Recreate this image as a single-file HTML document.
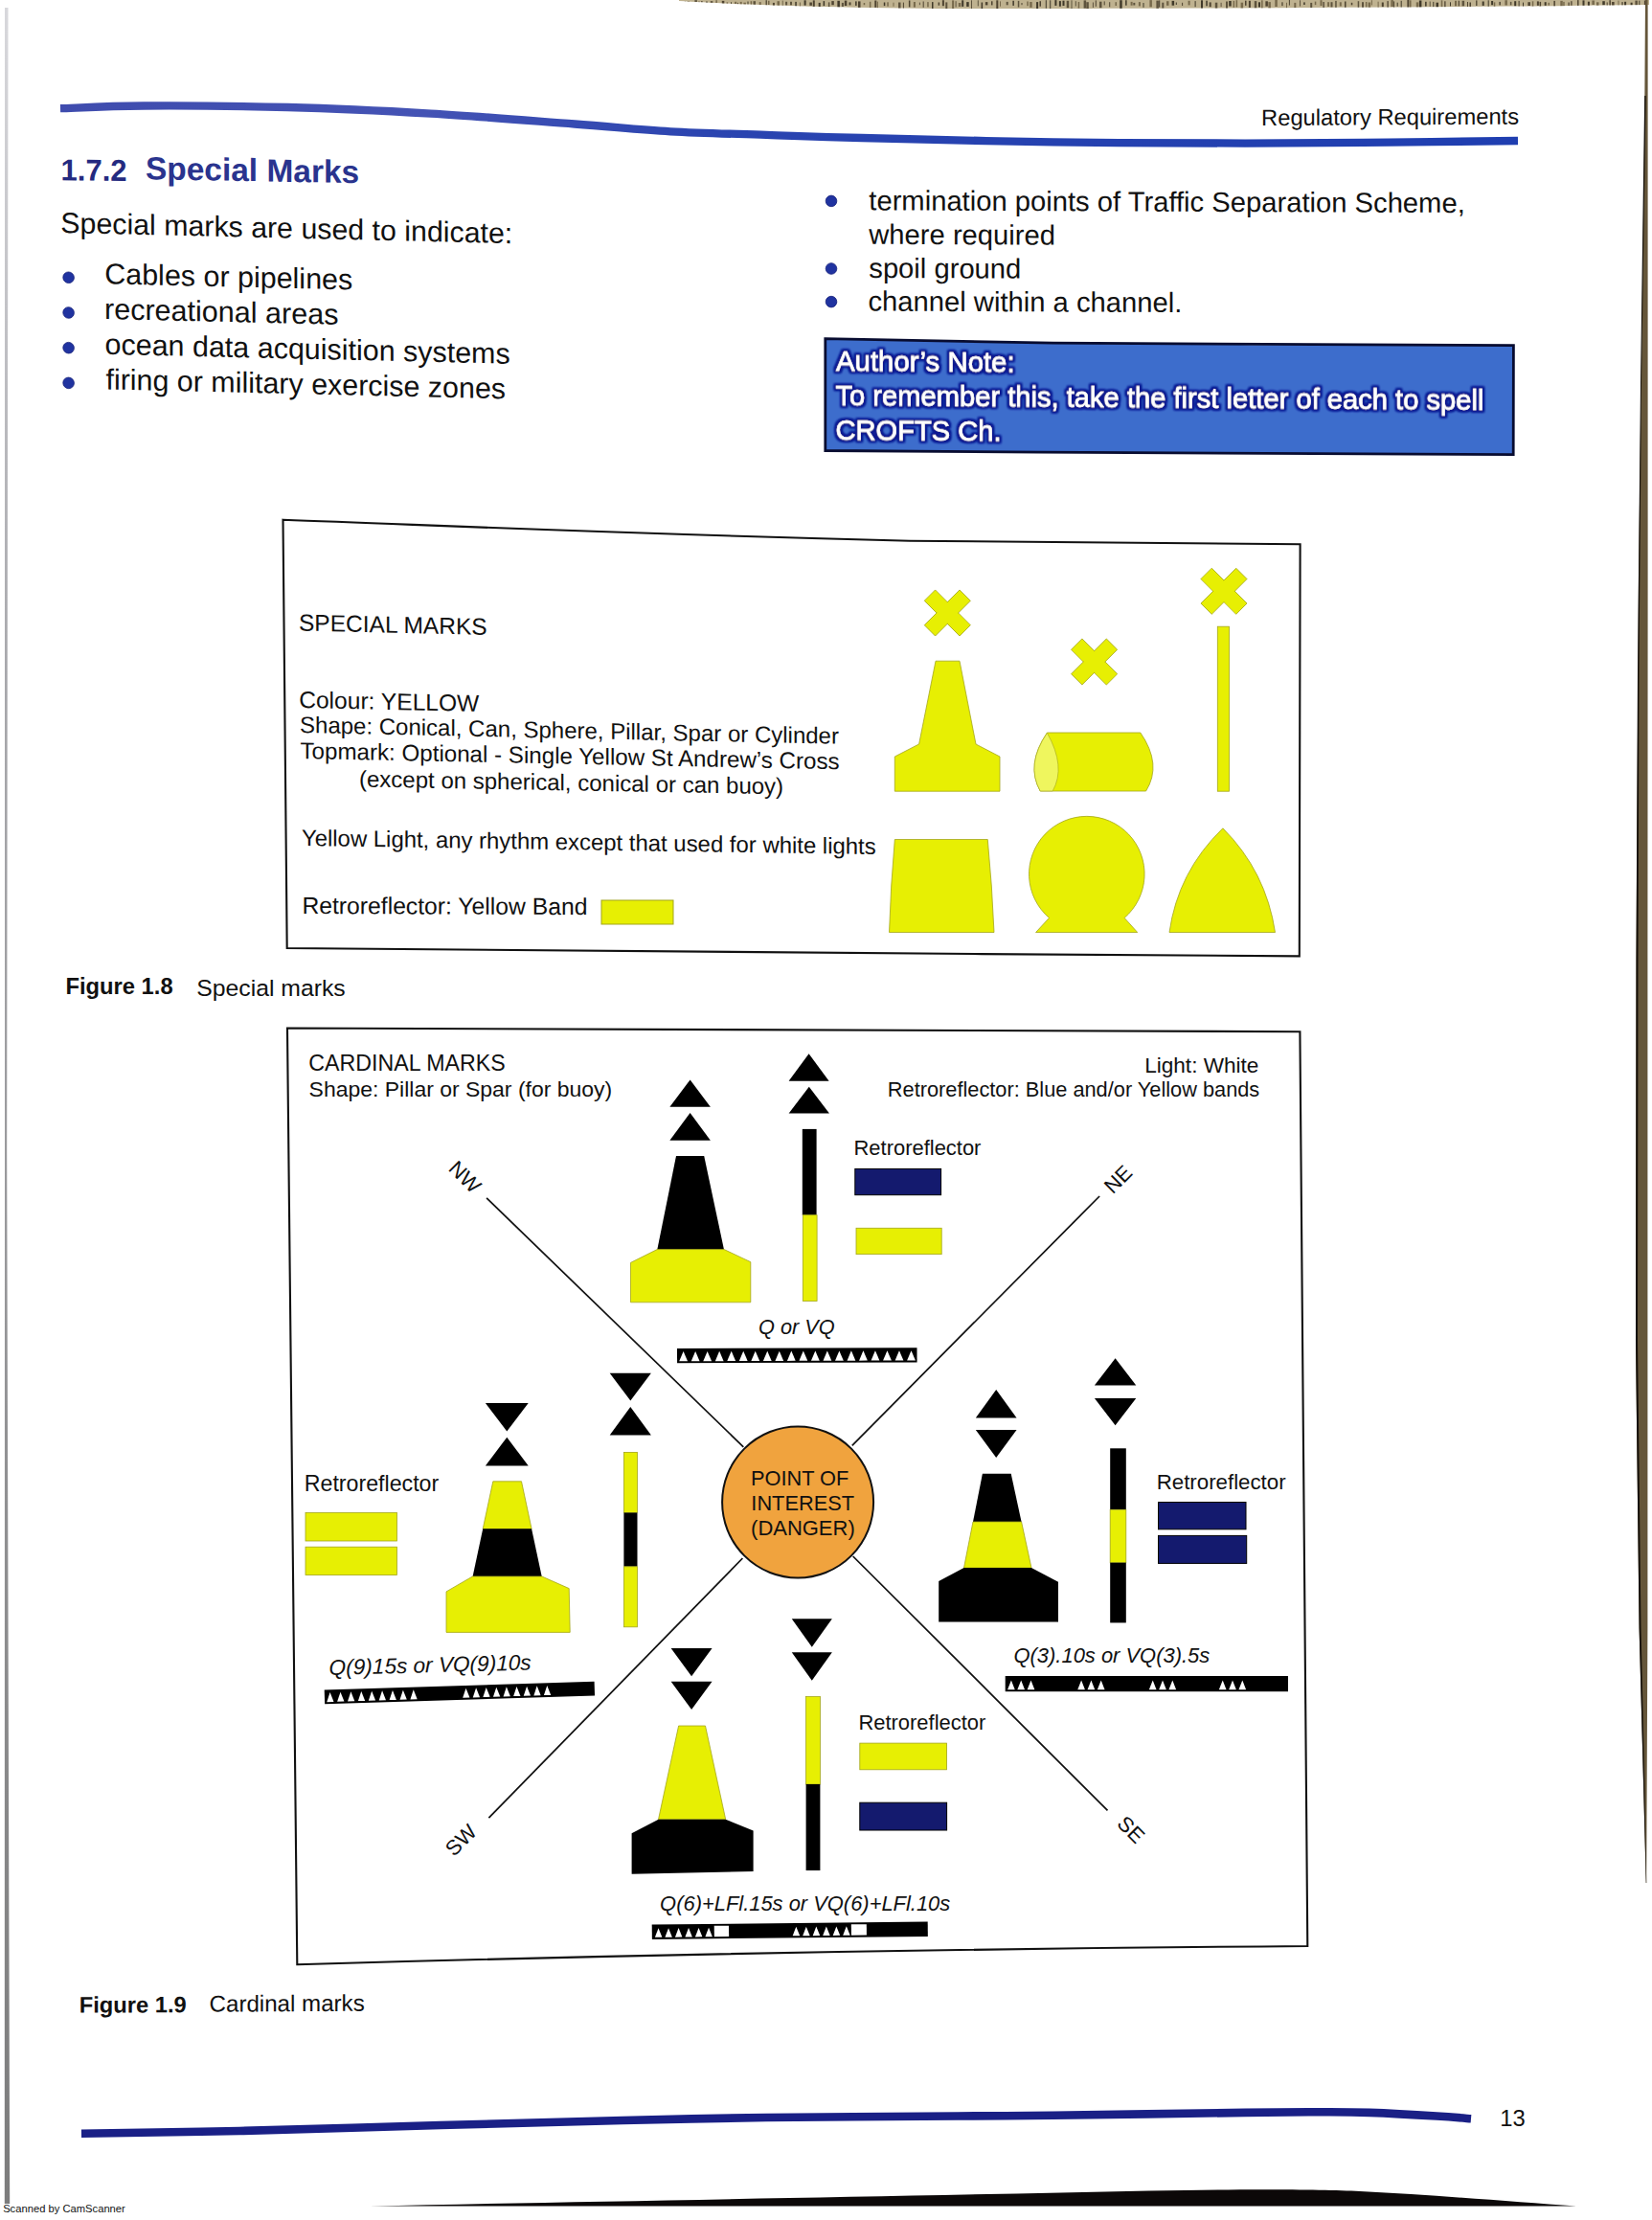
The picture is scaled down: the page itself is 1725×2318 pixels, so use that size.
<!DOCTYPE html>
<html><head><meta charset="utf-8"><title>Special Marks</title>
<style>
html,body{margin:0;padding:0;background:#fff;width:1725px;height:2318px;overflow:hidden;}
svg{display:block;}
svg text{font-family:"Liberation Sans",sans-serif;}
</style></head>
<body>
<svg width="1725" height="2318" viewBox="0 0 1725 2318">
<clipPath id="wc"><path d="M709,0 L1722,0 L1722,5 C1500,8 1200,9 1000,9 C850,8 760,4 709,1 Z"/></clipPath>
<path d="M709,0 L1722,0 L1722,5 C1500,8 1200,9 1000,9 C850,8 760,4 709,1 Z" fill="#bfb290"/>
<g clip-path="url(#wc)" opacity="0.85"><rect x="712.0" y="2.8" width="2" height="4.1" fill="#3a3020"/><rect x="714.8" y="1.1" width="1" height="4.2" fill="#4d4230"/><rect x="717.5" y="1.3" width="2.5" height="4.9" fill="#6a5c40"/><rect x="720.3" y="2.8" width="1" height="5.3" fill="#3a3020"/><rect x="725.4" y="0.1" width="2.5" height="6.0" fill="#4d4230"/><rect x="729.2" y="1.6" width="1.5" height="6.2" fill="#4d4230"/><rect x="732.1" y="1.1" width="1.5" height="6.6" fill="#3a3020"/><rect x="737.2" y="1.5" width="1.5" height="6.2" fill="#2a2418"/><rect x="741.8" y="1.1" width="2.5" height="5.2" fill="#4d4230"/><rect x="747.4" y="0.2" width="1.5" height="6.3" fill="#6a5c40"/><rect x="753.8" y="0.9" width="2.5" height="9.0" fill="#3a3020"/><rect x="758.6" y="2.3" width="1.5" height="3.5" fill="#6a5c40"/><rect x="763.0" y="2.3" width="1" height="5.6" fill="#2a2418"/><rect x="767.1" y="1.8" width="2" height="6.1" fill="#6a5c40"/><rect x="769.9" y="2.8" width="1" height="4.5" fill="#3a3020"/><rect x="772.7" y="1.9" width="2" height="8.0" fill="#6a5c40"/><rect x="776.4" y="2.7" width="2.5" height="4.1" fill="#6a5c40"/><rect x="780.5" y="1.5" width="1" height="4.6" fill="#2a2418"/><rect x="783.6" y="1.2" width="1.5" height="8.4" fill="#6a5c40"/><rect x="786.5" y="1.2" width="2.5" height="5.2" fill="#4d4230"/><rect x="792.7" y="2.1" width="2" height="7.8" fill="#6a5c40"/><rect x="799.5" y="0.2" width="1.5" height="5.5" fill="#4d4230"/><rect x="802.0" y="0.8" width="1.5" height="4.2" fill="#6a5c40"/><rect x="806.9" y="2.9" width="2" height="5.6" fill="#3a3020"/><rect x="811.5" y="1.2" width="2.5" height="5.8" fill="#6a5c40"/><rect x="816.8" y="0.6" width="1" height="9.4" fill="#6a5c40"/><rect x="820.1" y="1.8" width="2" height="3.7" fill="#4d4230"/><rect x="825.0" y="1.8" width="2" height="3.5" fill="#4d4230"/><rect x="830.3" y="1.9" width="1.5" height="7.9" fill="#2a2418"/><rect x="834.9" y="2.5" width="1" height="7.4" fill="#6a5c40"/><rect x="839.6" y="0.3" width="2" height="5.3" fill="#2a2418"/><rect x="845.4" y="2.5" width="2.5" height="3.3" fill="#3a3020"/><rect x="848.8" y="0.4" width="2" height="7.3" fill="#3a3020"/><rect x="854.7" y="2.9" width="2" height="6.4" fill="#2a2418"/><rect x="859.6" y="1.1" width="1.5" height="5.0" fill="#2a2418"/><rect x="864.9" y="2.4" width="1.5" height="6.7" fill="#4d4230"/><rect x="868.3" y="1.1" width="2.5" height="4.1" fill="#3a3020"/><rect x="874.4" y="0.8" width="2.5" height="7.7" fill="#2a2418"/><rect x="878.9" y="2.9" width="2" height="4.0" fill="#4d4230"/><rect x="881.8" y="0.6" width="2.5" height="5.4" fill="#3a3020"/><rect x="886.5" y="2.4" width="2" height="3.0" fill="#3a3020"/><rect x="893.1" y="1.4" width="1.5" height="4.5" fill="#2a2418"/><rect x="896.0" y="1.4" width="2.5" height="7.3" fill="#3a3020"/><rect x="901.7" y="3.0" width="1.5" height="2.2" fill="#6a5c40"/><rect x="907.9" y="1.8" width="1.5" height="6.1" fill="#6a5c40"/><rect x="913.3" y="0.5" width="2" height="7.3" fill="#3a3020"/><rect x="915.9" y="1.6" width="1" height="8.1" fill="#6a5c40"/><rect x="922.8" y="2.5" width="1.5" height="3.6" fill="#2a2418"/><rect x="926.3" y="2.3" width="1.5" height="4.3" fill="#6a5c40"/><rect x="932.5" y="2.7" width="1" height="4.0" fill="#6a5c40"/><rect x="938.0" y="2.5" width="2.5" height="6.9" fill="#4d4230"/><rect x="942.9" y="2.6" width="1" height="6.3" fill="#3a3020"/><rect x="948.9" y="0.5" width="1.5" height="6.9" fill="#3a3020"/><rect x="953.9" y="2.0" width="2" height="5.6" fill="#6a5c40"/><rect x="959.9" y="2.6" width="1" height="2.6" fill="#4d4230"/><rect x="963.7" y="1.5" width="1" height="6.3" fill="#3a3020"/><rect x="968.2" y="2.1" width="1.5" height="5.2" fill="#6a5c40"/><rect x="973.0" y="2.1" width="1.5" height="7.3" fill="#2a2418"/><rect x="979.6" y="2.5" width="1.5" height="3.2" fill="#3a3020"/><rect x="983.9" y="0.2" width="2" height="6.0" fill="#3a3020"/><rect x="987.3" y="2.4" width="2" height="7.1" fill="#4d4230"/><rect x="994.1" y="0.4" width="2" height="9.0" fill="#6a5c40"/><rect x="997.6" y="1.2" width="1" height="6.2" fill="#4d4230"/><rect x="1000.8" y="3.0" width="2.5" height="4.0" fill="#6a5c40"/><rect x="1004.2" y="0.3" width="2" height="6.6" fill="#2a2418"/><rect x="1009.2" y="2.1" width="2.5" height="4.8" fill="#2a2418"/><rect x="1014.0" y="0.3" width="1" height="9.3" fill="#4d4230"/><rect x="1020.8" y="0.3" width="1" height="6.1" fill="#4d4230"/><rect x="1024.6" y="2.5" width="1.5" height="6.8" fill="#2a2418"/><rect x="1028.9" y="2.1" width="2.5" height="3.3" fill="#3a3020"/><rect x="1035.0" y="1.3" width="1.5" height="4.1" fill="#3a3020"/><rect x="1040.3" y="0.3" width="2" height="9.0" fill="#3a3020"/><rect x="1044.0" y="1.4" width="1" height="5.3" fill="#6a5c40"/><rect x="1050.7" y="1.9" width="2" height="3.4" fill="#4d4230"/><rect x="1057.4" y="0.8" width="1.5" height="5.1" fill="#2a2418"/><rect x="1062.8" y="0.9" width="1.5" height="6.6" fill="#4d4230"/><rect x="1066.5" y="3.0" width="1" height="2.2" fill="#3a3020"/><rect x="1072.3" y="1.5" width="1.5" height="4.7" fill="#6a5c40"/><rect x="1075.2" y="2.0" width="2.5" height="5.8" fill="#6a5c40"/><rect x="1082.1" y="2.1" width="2" height="7.8" fill="#2a2418"/><rect x="1085.5" y="1.2" width="1.5" height="5.5" fill="#3a3020"/><rect x="1091.8" y="0.2" width="1" height="8.5" fill="#2a2418"/><rect x="1096.2" y="0.3" width="1" height="9.0" fill="#2a2418"/><rect x="1101.4" y="0.1" width="2" height="5.8" fill="#2a2418"/><rect x="1105.9" y="1.1" width="2" height="5.6" fill="#2a2418"/><rect x="1109.5" y="0.7" width="2" height="5.3" fill="#2a2418"/><rect x="1113.7" y="0.8" width="2.5" height="7.4" fill="#4d4230"/><rect x="1118.5" y="0.3" width="1" height="8.8" fill="#4d4230"/><rect x="1122.8" y="1.2" width="1" height="5.3" fill="#4d4230"/><rect x="1125.7" y="2.0" width="1.5" height="6.6" fill="#6a5c40"/><rect x="1131.6" y="0.4" width="2.5" height="8.2" fill="#4d4230"/><rect x="1134.3" y="2.2" width="2.5" height="6.9" fill="#4d4230"/><rect x="1140.9" y="2.5" width="1" height="5.4" fill="#4d4230"/><rect x="1143.8" y="0.4" width="1" height="6.4" fill="#3a3020"/><rect x="1148.0" y="1.7" width="2.5" height="6.5" fill="#4d4230"/><rect x="1152.7" y="1.4" width="1" height="4.0" fill="#3a3020"/><rect x="1158.2" y="2.2" width="1" height="5.1" fill="#3a3020"/><rect x="1164.5" y="2.2" width="1.5" height="3.8" fill="#6a5c40"/><rect x="1169.2" y="0.2" width="2.5" height="9.3" fill="#2a2418"/><rect x="1175.1" y="0.2" width="1.5" height="5.5" fill="#2a2418"/><rect x="1180.6" y="1.9" width="2" height="3.8" fill="#6a5c40"/><rect x="1183.3" y="2.9" width="2" height="2.6" fill="#4d4230"/><rect x="1188.9" y="2.1" width="2" height="4.3" fill="#6a5c40"/><rect x="1193.5" y="3.0" width="1" height="4.8" fill="#2a2418"/><rect x="1200.4" y="0.1" width="2.5" height="7.2" fill="#6a5c40"/><rect x="1207.4" y="0.6" width="2.5" height="9.1" fill="#4d4230"/><rect x="1210.2" y="0.4" width="1" height="7.2" fill="#2a2418"/><rect x="1213.3" y="2.7" width="2" height="5.9" fill="#4d4230"/><rect x="1218.0" y="1.2" width="2.5" height="4.6" fill="#6a5c40"/><rect x="1223.6" y="0.9" width="2.5" height="4.8" fill="#2a2418"/><rect x="1227.8" y="2.5" width="1" height="2.5" fill="#2a2418"/><rect x="1234.1" y="2.8" width="1" height="3.2" fill="#3a3020"/><rect x="1240.6" y="0.8" width="2" height="4.6" fill="#6a5c40"/><rect x="1247.6" y="1.1" width="1" height="6.1" fill="#2a2418"/><rect x="1254.0" y="0.3" width="2" height="8.9" fill="#2a2418"/><rect x="1259.3" y="0.7" width="1.5" height="5.6" fill="#2a2418"/><rect x="1262.7" y="2.4" width="2" height="4.8" fill="#3a3020"/><rect x="1268.8" y="2.7" width="2.5" height="7.0" fill="#4d4230"/><rect x="1274.6" y="2.8" width="1" height="4.3" fill="#4d4230"/><rect x="1280.0" y="1.5" width="2" height="8.1" fill="#4d4230"/><rect x="1283.2" y="1.0" width="2.5" height="5.5" fill="#2a2418"/><rect x="1287.6" y="0.9" width="1.5" height="6.9" fill="#6a5c40"/><rect x="1290.6" y="0.2" width="1.5" height="7.3" fill="#6a5c40"/><rect x="1295.6" y="2.7" width="2.5" height="7.3" fill="#6a5c40"/><rect x="1300.0" y="0.7" width="1.5" height="5.1" fill="#3a3020"/><rect x="1303.9" y="0.8" width="2" height="7.1" fill="#3a3020"/><rect x="1309.8" y="1.1" width="2.5" height="7.6" fill="#4d4230"/><rect x="1314.0" y="2.3" width="2" height="5.2" fill="#2a2418"/><rect x="1317.1" y="0.3" width="1.5" height="9.2" fill="#6a5c40"/><rect x="1321.4" y="1.3" width="2.5" height="5.3" fill="#3a3020"/><rect x="1324.4" y="2.1" width="2.5" height="7.3" fill="#6a5c40"/><rect x="1331.3" y="0.0" width="2.5" height="7.0" fill="#6a5c40"/><rect x="1338.2" y="2.3" width="1.5" height="3.8" fill="#4d4230"/><rect x="1343.0" y="2.8" width="1" height="5.8" fill="#6a5c40"/><rect x="1345.9" y="0.0" width="1" height="5.6" fill="#3a3020"/><rect x="1351.3" y="2.9" width="2" height="5.2" fill="#6a5c40"/><rect x="1357.0" y="0.3" width="1" height="6.2" fill="#4d4230"/><rect x="1361.2" y="2.4" width="1.5" height="2.6" fill="#2a2418"/><rect x="1368.2" y="2.9" width="2" height="5.3" fill="#4d4230"/><rect x="1372.8" y="1.6" width="1.5" height="3.5" fill="#6a5c40"/><rect x="1378.5" y="0.2" width="2" height="5.8" fill="#6a5c40"/><rect x="1381.4" y="2.0" width="1.5" height="7.6" fill="#4d4230"/><rect x="1386.1" y="2.2" width="2" height="4.7" fill="#6a5c40"/><rect x="1389.5" y="2.2" width="2" height="5.3" fill="#4d4230"/><rect x="1394.2" y="0.9" width="1.5" height="8.2" fill="#4d4230"/><rect x="1398.8" y="2.3" width="2" height="4.2" fill="#6a5c40"/><rect x="1404.0" y="1.5" width="1.5" height="8.1" fill="#3a3020"/><rect x="1410.8" y="2.8" width="1.5" height="2.5" fill="#3a3020"/><rect x="1417.7" y="1.2" width="1.5" height="7.3" fill="#4d4230"/><rect x="1422.0" y="2.2" width="2" height="7.8" fill="#4d4230"/><rect x="1425.9" y="2.0" width="1.5" height="5.7" fill="#6a5c40"/><rect x="1428.6" y="2.5" width="2.5" height="7.4" fill="#6a5c40"/><rect x="1431.9" y="0.2" width="1" height="5.2" fill="#6a5c40"/><rect x="1438.6" y="1.7" width="1" height="7.1" fill="#6a5c40"/><rect x="1442.8" y="2.5" width="2" height="4.7" fill="#3a3020"/><rect x="1448.4" y="1.1" width="1.5" height="8.5" fill="#4d4230"/><rect x="1452.4" y="0.1" width="2.5" height="7.0" fill="#6a5c40"/><rect x="1455.1" y="1.4" width="1" height="7.6" fill="#3a3020"/><rect x="1458.7" y="2.7" width="1" height="4.0" fill="#2a2418"/><rect x="1462.7" y="0.8" width="1" height="7.8" fill="#2a2418"/><rect x="1469.4" y="0.0" width="2" height="8.8" fill="#3a3020"/><rect x="1472.0" y="0.3" width="1.5" height="8.3" fill="#6a5c40"/><rect x="1478.8" y="2.4" width="2.5" height="7.2" fill="#6a5c40"/><rect x="1481.9" y="0.5" width="2.5" height="8.5" fill="#2a2418"/><rect x="1488.1" y="1.8" width="1.5" height="4.8" fill="#2a2418"/><rect x="1492.7" y="1.5" width="1" height="5.4" fill="#4d4230"/><rect x="1496.3" y="1.9" width="1" height="5.5" fill="#2a2418"/><rect x="1499.5" y="2.7" width="2.5" height="7.3" fill="#2a2418"/><rect x="1504.8" y="0.3" width="1.5" height="7.2" fill="#6a5c40"/><rect x="1508.1" y="1.3" width="1.5" height="6.9" fill="#4d4230"/><rect x="1514.0" y="2.3" width="1" height="4.1" fill="#2a2418"/><rect x="1519.0" y="0.8" width="2" height="5.5" fill="#6a5c40"/><rect x="1522.6" y="0.7" width="1.5" height="5.7" fill="#4d4230"/><rect x="1526.6" y="0.8" width="2.5" height="5.5" fill="#4d4230"/><rect x="1532.0" y="2.0" width="1" height="8.0" fill="#3a3020"/><rect x="1534.5" y="2.5" width="1.5" height="7.1" fill="#3a3020"/><rect x="1541.0" y="0.4" width="1.5" height="5.6" fill="#4d4230"/><rect x="1547.7" y="1.5" width="2" height="4.4" fill="#2a2418"/><rect x="1553.7" y="0.3" width="1" height="7.7" fill="#2a2418"/><rect x="1557.1" y="1.0" width="2" height="4.2" fill="#2a2418"/><rect x="1559.8" y="2.4" width="1.5" height="6.6" fill="#6a5c40"/><rect x="1565.4" y="1.9" width="1.5" height="3.5" fill="#3a3020"/><rect x="1571.4" y="0.2" width="2.5" height="5.3" fill="#6a5c40"/><rect x="1576.9" y="1.9" width="1.5" height="3.5" fill="#4d4230"/><rect x="1581.2" y="1.2" width="2" height="5.2" fill="#2a2418"/><rect x="1585.6" y="0.9" width="1" height="6.9" fill="#2a2418"/><rect x="1590.0" y="2.6" width="1" height="7.4" fill="#2a2418"/><rect x="1595.4" y="2.2" width="2.5" height="3.8" fill="#3a3020"/><rect x="1599.8" y="1.3" width="1.5" height="7.8" fill="#6a5c40"/><rect x="1604.9" y="1.4" width="2" height="4.4" fill="#3a3020"/><rect x="1607.6" y="1.9" width="1.5" height="7.6" fill="#3a3020"/><rect x="1612.7" y="2.2" width="2" height="3.6" fill="#2a2418"/><rect x="1616.5" y="2.8" width="1.5" height="2.8" fill="#6a5c40"/><rect x="1622.4" y="0.9" width="1.5" height="8.3" fill="#3a3020"/><rect x="1629.3" y="0.9" width="2.5" height="7.1" fill="#6a5c40"/><rect x="1632.2" y="1.9" width="1.5" height="7.4" fill="#6a5c40"/><rect x="1637.4" y="2.5" width="1.5" height="3.4" fill="#4d4230"/><rect x="1640.1" y="1.2" width="1.5" height="4.5" fill="#4d4230"/><rect x="1647.0" y="0.1" width="1.5" height="7.7" fill="#3a3020"/><rect x="1652.5" y="0.4" width="2" height="7.6" fill="#2a2418"/><rect x="1657.9" y="1.7" width="2" height="5.4" fill="#2a2418"/><rect x="1662.4" y="0.5" width="2.5" height="4.5" fill="#6a5c40"/><rect x="1667.0" y="2.3" width="2.5" height="6.6" fill="#6a5c40"/><rect x="1673.3" y="1.2" width="2.5" height="4.1" fill="#2a2418"/><rect x="1677.7" y="2.4" width="1" height="5.1" fill="#3a3020"/><rect x="1680.4" y="0.2" width="1.5" height="8.4" fill="#3a3020"/><rect x="1683.1" y="2.0" width="2.5" height="7.0" fill="#3a3020"/><rect x="1689.5" y="0.6" width="1" height="9.3" fill="#6a5c40"/><rect x="1693.3" y="2.1" width="1.5" height="6.5" fill="#4d4230"/><rect x="1696.1" y="1.8" width="2" height="4.4" fill="#2a2418"/><rect x="1702.6" y="2.7" width="2" height="4.6" fill="#2a2418"/><rect x="1707.4" y="0.6" width="2.5" height="5.7" fill="#4d4230"/><rect x="1711.3" y="0.6" width="1" height="6.4" fill="#2a2418"/><rect x="1716.9" y="0.5" width="2.5" height="8.4" fill="#3a3020"/></g>
<path d="M1718,0 L1720.6,0 L1720.6,600 L1720.4,1000 L1720.4,1700 L1719.7,1850 L1719.2,1966 L1718.8,1966 L1715.7,1850 L1711.6,1700 L1708,1400 L1708.5,1000 L1711,600 L1715,300 L1717,150 Z" fill="#65563a"/>
<path d="M1717.2,100 L1718.6,100 L1714,400 L1711.5,700 L1710.5,1000 L1710,1400 L1713.5,1700 L1717,1850 L1719.2,1966 L1718.8,1966 L1715.7,1850 L1711.6,1700 L1708,1400 L1708.5,1000 L1710,700 L1713,400 Z" fill="#15100a"/>
<defs><linearGradient id="lg" x1="0" y1="0" x2="0" y2="1"><stop offset="0" stop-color="#d8d8dc"/><stop offset="0.3" stop-color="#a8a8ac"/><stop offset="1" stop-color="#7c7c7c"/></linearGradient></defs>
<path d="M5,8 L8.5,8 L7.2,1200 L10.2,2301 L4.8,2301 L5,1200 Z" fill="url(#lg)"/>
<path d="M386,2303.5 C600,2299 900,2294 1200,2287.5 C1300,2285.5 1380,2286 1420,2288 C1500,2292 1580,2299 1646,2303.5 Z" fill="#0c0808"/>
<defs><linearGradient id="hl" x1="0" y1="0" x2="1" y2="0"><stop offset="0" stop-color="#3f4cae"/><stop offset="0.25" stop-color="#4453b4"/><stop offset="0.45" stop-color="#2a44b0"/><stop offset="1" stop-color="#1f3eb0"/></linearGradient></defs>
<path d="M63,113.2 C77.5,112.8 110.5,110.7 150,110.5 C189.5,110.3 250.0,110.7 300,112 C350.0,113.3 400.0,115.7 450,118.6 C500.0,121.5 558.3,126.4 600,129.5 C641.7,132.6 666.7,135.4 700,137.3 C733.3,139.2 766.7,139.7 800,140.8 C833.3,141.9 850.0,142.8 900,144 C950.0,145.2 1033.3,147.4 1100,148.3 C1166.7,149.2 1241.7,149.6 1300,149.6 C1358.3,149.6 1402.5,149.0 1450,148.6 C1497.5,148.2 1562.5,147.3 1585,147" fill="none" stroke="url(#hl)" stroke-width="8.3"/>
<path d="M85,2227.7 C112.5,2227.2 187.5,2226.4 250,2225 C312.5,2223.6 393.3,2220.8 460,2219 C526.7,2217.2 593.3,2215.3 650,2214 C706.7,2212.7 741.7,2211.8 800,2211 C858.3,2210.2 950.0,2209.9 1000,2209.5 C1050.0,2209.1 1050.0,2209.3 1100,2208.7 C1150.0,2208.1 1253.3,2206.5 1300,2205.9 C1346.7,2205.3 1358.3,2205.3 1380,2205.3 C1401.7,2205.3 1410.0,2205.2 1430,2205.9 C1450.0,2206.6 1482.3,2208.4 1500,2209.5 C1517.7,2210.6 1530.0,2211.8 1536,2212.3" fill="none" stroke="#1a2086" stroke-width="8.6"/>
<text x="1317.1" y="131" font-size="23.72" fill="#111" transform="translate(1317.1 131) skewY(-0.3) translate(-1317.1 -131)">Regulatory Requirements</text>
<text x="63.57" y="188.3" font-size="31.5" font-weight="700" fill="#242a80" transform="translate(63.57 188.3) skewY(0.5) translate(-63.57 -188.3)" textLength="69" lengthAdjust="spacingAndGlyphs">1.7.2</text>
<text x="151.93" y="187.2" font-size="33.47" font-weight="700" fill="#2a348e" transform="translate(151.93 187.2) skewY(1.0) translate(-151.93 -187.2)">Special Marks</text>
<g transform="translate(64 243) skewY(1.35) translate(-64 -243)">
<text x="63.29" y="243" font-size="30.33" fill="#111">Special marks are used to indicate:</text>
<circle cx="71.6" cy="289.6" r="5.8" fill="#2033a0" stroke="#16207a" stroke-width="0.8"/>
<text x="109.28" y="295.3" font-size="30.46" fill="#111">Cables or pipelines</text>
<circle cx="71.6" cy="326.3" r="5.8" fill="#2033a0" stroke="#16207a" stroke-width="0.8"/>
<text x="108.97" y="332.0" font-size="30.55" fill="#111">recreational areas</text>
<circle cx="71.6" cy="363.00000000000006" r="5.8" fill="#2033a0" stroke="#16207a" stroke-width="0.8"/>
<text x="109.58" y="368.70000000000005" font-size="30.46" fill="#111">ocean data acquisition systems</text>
<circle cx="71.6" cy="399.70000000000005" r="5.8" fill="#2033a0" stroke="#16207a" stroke-width="0.8"/>
<text x="110.5" y="405.40000000000003" font-size="30.43" fill="#111">firing or military exercise zones</text>
</g>
<g transform="translate(868 220) skewY(0.25) translate(-868 -220)">
<circle cx="868" cy="209.89999999999998" r="5.8" fill="#2033a0" stroke="#16207a" stroke-width="0.8"/>
<text x="907.3" y="219.2" font-size="29.2" fill="#111">termination points of Traffic Separation Scheme,</text>
<text x="907.3" y="254.6" font-size="29.2" fill="#111">where required</text>
<circle cx="868" cy="280.5" r="5.8" fill="#2033a0" stroke="#16207a" stroke-width="0.8"/>
<text x="907.3" y="289.8" font-size="29.2" fill="#111">spoil ground</text>
<circle cx="868" cy="315.09999999999997" r="5.8" fill="#2033a0" stroke="#16207a" stroke-width="0.8"/>
<text x="906.5" y="324.4" font-size="29.2" fill="#111">channel within a channel.</text>
</g>
<path d="M861.8,353.6 C960,355.5 1040,357 1100,358.2 C1200,360 1300,360.6 1580.4,360.6 L1580.2,474.6 C1300,473.5 1100,472.5 861.8,470.5 Z" fill="#3d6dcc" stroke="#080c30" stroke-width="2.8"/>
<g transform="translate(861 353) skewY(0.42) translate(-861 -353)">
<defs><filter id="glow" x="-5%" y="-40%" width="110%" height="180%"><feMorphology in="SourceAlpha" operator="dilate" radius="1.5" result="d"/><feGaussianBlur in="d" stdDeviation="1.1" result="b"/><feFlood flood-color="#0a1a90" flood-opacity="1"/><feComposite in2="b" operator="in" result="s"/><feMerge><feMergeNode in="s"/><feMergeNode in="s"/><feMergeNode in="SourceGraphic"/></feMerge></filter></defs>
<text x="873.0" y="387.3" font-size="29.36" fill="#fff" filter="url(#glow)" stroke="#fff" stroke-width="0.5">Author’s Note:</text>
<text x="872.42" y="423.2" font-size="29.15" fill="#fff" filter="url(#glow)" stroke="#fff" stroke-width="0.5">To remember this, take the first letter of each to spell</text>
<text x="872.42" y="459.3" font-size="29.15" fill="#fff" filter="url(#glow)" stroke="#fff" stroke-width="0.5">CROFTS Ch.</text>
</g>
<path d="M295.5,542.7 C450,548 600,556 950,564.7 C1150,567 1300,568 1357.6,568.2 L1356.8,998.4 C1000,996 600,993 299.7,990 Z" fill="none" stroke="#111" stroke-width="2.1"/>
<text x="312.02" y="658.5" font-size="24.53" fill="#111" transform="translate(312.02 658.5) skewY(1.3) translate(-312.02 -658.5)">SPECIAL MARKS</text>
<text x="312.17" y="739" font-size="24.6" fill="#111" transform="translate(312.17 739) skewY(1.2) translate(-312.17 -739)">Colour: YELLOW</text>
<text x="313.04" y="765" font-size="24.01" fill="#111" transform="translate(313.04 765) skewY(1.2) translate(-313.04 -765)">Shape: Conical, Can, Sphere, Pillar, Spar or Cylinder</text>
<text x="313.52" y="792" font-size="24.15" fill="#111" transform="translate(313.52 792) skewY(1.15) translate(-313.52 -792)">Topmark: Optional - Single Yellow St Andrew’s Cross</text>
<text x="374.96" y="821.5" font-size="24.02" fill="#111" transform="translate(374.96 821.5) skewY(1.0) translate(-374.96 -821.5)">(except on spherical, conical or can buoy)</text>
<text x="314.92" y="883" font-size="23.92" fill="#111" transform="translate(314.92 883) skewY(0.86) translate(-314.92 -883)">Yellow Light, any rhythm except that used for white lights</text>
<text x="315.42" y="954" font-size="24.71" fill="#111" transform="translate(315.42 954) skewY(0.2) translate(-315.42 -954)">Retroreflector: Yellow Band</text>
<rect x="628" y="940" width="75" height="25" fill="#e7ef03" stroke="#a3a61c" stroke-width="1"/>
<g transform="translate(989.3 640) rotate(45)"><rect x="-26.0" y="-8.0" width="52" height="16" fill="#e7ef03" stroke="#a3a61c" stroke-width="0.8"/><rect x="-8.0" y="-26.0" width="16" height="52" fill="#e7ef03" stroke="#a3a61c" stroke-width="0.8"/></g>
<g transform="translate(989.3 640) rotate(45)"><rect x="-25.5" y="-7.5" width="51" height="15" fill="#e7ef03"/></g>
<g transform="translate(1142.6 691) rotate(45)"><rect x="-26.0" y="-8.0" width="52" height="16" fill="#e7ef03" stroke="#a3a61c" stroke-width="0.8"/><rect x="-8.0" y="-26.0" width="16" height="52" fill="#e7ef03" stroke="#a3a61c" stroke-width="0.8"/></g>
<g transform="translate(1142.6 691) rotate(45)"><rect x="-25.5" y="-7.5" width="51" height="15" fill="#e7ef03"/></g>
<g transform="translate(1278 617.3) rotate(45)"><rect x="-26.0" y="-8.0" width="52" height="16" fill="#e7ef03" stroke="#a3a61c" stroke-width="0.8"/><rect x="-8.0" y="-26.0" width="16" height="52" fill="#e7ef03" stroke="#a3a61c" stroke-width="0.8"/></g>
<g transform="translate(1278 617.3) rotate(45)"><rect x="-25.5" y="-7.5" width="51" height="15" fill="#e7ef03"/></g>
<polygon points="977,690.2 1002,690.2 1019,777 1044,790 1044,826.2 934.3,826.2 934.3,790 959.6,777" fill="#e7ef03" stroke="#a3a61c" stroke-width="0.8"/>
<path d="M1093.4,765 L1190.8,765 Q1213.9,798.3 1196.6,826 L1086.2,826 Q1070.8,798.3 1093.4,765 Z" fill="#e7ef03" stroke="#a3a61c" stroke-width="0.8"/>
<path d="M1093.4,765.3 Q1113.4,800.6 1099.2,826 L1086.2,826 Q1070.8,798.3 1093.4,765.3 Z" fill="#eff65e" stroke="#a3a61c" stroke-width="0.6"/>
<rect x="1271.3" y="654.2" width="12.2" height="172" fill="#e7ef03" stroke="#a3a61c" stroke-width="0.8"/>
<path d="M934.3,876.5 L1031.3,876.5 Q1036,925 1038,973.5 L928.5,973.5 Q930,925 934.3,876.5 Z" fill="#e7ef03" stroke="#a3a61c" stroke-width="0.8"/>
<path d="M1095.5,958.4 A60.3,60.3 0 1 1 1174.1,958.4 L1187.7,973.5 L1081.6,973.5 Z" fill="#e7ef03" stroke="#a3a61c" stroke-width="0.8"/>
<path d="M1276.9,864.8 Q1230,910 1221,973.5 L1331.5,973.5 Q1322,910 1276.9,864.8 Z" fill="#e7ef03" stroke="#a3a61c" stroke-width="0.8"/>
<text x="68.48" y="1038.4" font-size="23.74" font-weight="700" fill="#111">Figure 1.8</text>
<text x="205.21" y="1039.6" font-size="24.77" fill="#111">Special marks</text>
<path d="M300,1073.5 L1357.4,1077.2 L1365.3,2032 Q830,2036 310.3,2051.2 Z" fill="none" stroke="#111" stroke-width="2.1"/>
<text x="322.34" y="1118" font-size="23.19" fill="#111">CARDINAL MARKS</text>
<text x="322.58" y="1145" font-size="22.97" fill="#111">Shape: Pillar or Spar (for buoy)</text>
<text x="1195.19" y="1119.5" font-size="22.58" fill="#111">Light: White</text>
<text x="926.86" y="1145" font-size="21.78" fill="#111">Retroreflector: Blue and/or Yellow bands</text>
<line x1="508.1" y1="1250.9" x2="776.3" y2="1510.8" stroke="#111" stroke-width="1.75"/>
<line x1="1148.1" y1="1249" x2="889.8" y2="1509.3" stroke="#111" stroke-width="1.75"/>
<line x1="510.4" y1="1898.1" x2="775.4" y2="1627" stroke="#111" stroke-width="1.75"/>
<line x1="1156.5" y1="1890.4" x2="890.7" y2="1625" stroke="#111" stroke-width="1.75"/>
<text x="485.5" y="1229" font-size="22" fill="#111" text-anchor="middle" dominant-baseline="central" transform="rotate(45 485.5 1229)">NW</text>
<text x="1167.5" y="1231.5" font-size="22" fill="#111" text-anchor="middle" dominant-baseline="central" transform="rotate(-45 1167.5 1231.5)">NE</text>
<text x="481.3" y="1921.3" font-size="22" fill="#111" text-anchor="middle" dominant-baseline="central" transform="rotate(-45 481.3 1921.3)">SW</text>
<text x="1181" y="1910.4" font-size="22" fill="#111" text-anchor="middle" dominant-baseline="central" transform="rotate(45 1181 1910.4)">SE</text>
<circle cx="833.1" cy="1568.5" r="79" fill="#f0a33e" stroke="#111" stroke-width="2"/>
<text x="783.96" y="1550.7" font-size="21.77" fill="#111">POINT OF</text>
<text x="784.34" y="1577" font-size="21.78" fill="#111">INTEREST</text>
<text x="784.08" y="1603" font-size="21.98" fill="#111">(DANGER)</text>
<polygon points="720.6,1127.5 741.85,1155.8 699.35,1155.8" fill="#000"/>
<polygon points="720.6,1161.9 741.85,1190.7 699.35,1190.7" fill="#000"/>
<polygon points="706,1207 735.2,1207 756.1,1305.3 686.2,1305.3" fill="#000"/>
<polygon points="686.2,1304.6 756.1,1304.6 783.8,1317.7 783.8,1359.8 658.5,1359.8 658.5,1318.4" fill="#e7ef03" stroke="#a3a61c" stroke-width="0.8"/>
<polygon points="844.6,1100.2 865.6,1128.8 823.6,1128.8" fill="#000"/>
<polygon points="844.8,1134.7 865.9499999999999,1162.6 823.65,1162.6" fill="#000"/>
<rect x="837.8" y="1178.9" width="14.8" height="90" fill="#000"/>
<rect x="838.3" y="1268.7" width="14.8" height="89.8" fill="#e7ef03" stroke="#a3a61c" stroke-width="0.8"/>
<text x="891.54" y="1206.3" font-size="21.95" fill="#111">Retroreflector</text>
<rect x="892.8" y="1220.4" width="89.8" height="27.3" fill="#141a6e" stroke="#000" stroke-width="1"/>
<rect x="894" y="1282.3" width="89.2" height="27.3" fill="#e7ef03" stroke="#a3a61c" stroke-width="0.8"/>
<text x="792.03" y="1393" font-size="21.72" font-style="italic" fill="#111">Q or VQ</text>
<g transform="rotate(-0.2 707 1408)">
<rect x="707" y="1408" width="250.5" height="15.3" fill="#000"/>
<polygon points="713.6,1411.0 718.0,1421.3 709.2,1421.3" fill="#fff"/>
<polygon points="726.12,1411.0 730.52,1421.3 721.72,1421.3" fill="#fff"/>
<polygon points="738.64,1411.0 743.04,1421.3 734.24,1421.3" fill="#fff"/>
<polygon points="751.1600000000001,1411.0 755.5600000000001,1421.3 746.7600000000001,1421.3" fill="#fff"/>
<polygon points="763.6800000000001,1411.0 768.08,1421.3 759.2800000000001,1421.3" fill="#fff"/>
<polygon points="776.2,1411.0 780.6,1421.3 771.8000000000001,1421.3" fill="#fff"/>
<polygon points="788.72,1411.0 793.12,1421.3 784.32,1421.3" fill="#fff"/>
<polygon points="801.24,1411.0 805.64,1421.3 796.84,1421.3" fill="#fff"/>
<polygon points="813.76,1411.0 818.16,1421.3 809.36,1421.3" fill="#fff"/>
<polygon points="826.28,1411.0 830.68,1421.3 821.88,1421.3" fill="#fff"/>
<polygon points="838.8,1411.0 843.1999999999999,1421.3 834.4,1421.3" fill="#fff"/>
<polygon points="851.32,1411.0 855.72,1421.3 846.9200000000001,1421.3" fill="#fff"/>
<polygon points="863.84,1411.0 868.24,1421.3 859.44,1421.3" fill="#fff"/>
<polygon points="876.36,1411.0 880.76,1421.3 871.96,1421.3" fill="#fff"/>
<polygon points="888.88,1411.0 893.28,1421.3 884.48,1421.3" fill="#fff"/>
<polygon points="901.4,1411.0 905.8,1421.3 897.0,1421.3" fill="#fff"/>
<polygon points="913.9200000000001,1411.0 918.32,1421.3 909.5200000000001,1421.3" fill="#fff"/>
<polygon points="926.44,1411.0 930.84,1421.3 922.0400000000001,1421.3" fill="#fff"/>
<polygon points="938.96,1411.0 943.36,1421.3 934.5600000000001,1421.3" fill="#fff"/>
<polygon points="951.48,1411.0 955.88,1421.3 947.08,1421.3" fill="#fff"/>
</g>
<text x="317.75" y="1557.3" font-size="23.19" fill="#111">Retroreflector</text>
<rect x="319" y="1579.5" width="95.4" height="29.5" fill="#e7ef03" stroke="#a3a61c" stroke-width="0.8"/>
<rect x="319" y="1615.2" width="95.4" height="29.4" fill="#e7ef03" stroke="#a3a61c" stroke-width="0.8"/>
<polygon points="506.9,1465.1 551.6999999999999,1465.1 529.3,1494.5" fill="#000"/>
<polygon points="529.3,1500.7 551.6999999999999,1530.5 506.9,1530.5" fill="#000"/>
<polygon points="514.8,1546.8 544.5,1546.8 555.12,1596.5 504.18,1596.5" fill="#e7ef03" stroke="#a3a61c" stroke-width="0.8"/>
<polygon points="504.22,1596.3 555.08,1596.3 565.8,1646.5 493.5,1646.5" fill="#000"/>
<polygon points="493.5,1646 565.8,1646 594.2,1658.6 595.2,1704.4 466,1704.4 466,1661.9" fill="#e7ef03" stroke="#a3a61c" stroke-width="0.8"/>
<polygon points="636.6999999999999,1433.7 679.9,1433.7 658.3,1462.5" fill="#000"/>
<polygon points="658.3,1469 679.9,1498.5 636.6999999999999,1498.5" fill="#000"/>
<rect x="651.4" y="1516.4" width="14.1" height="63.1" fill="#e7ef03" stroke="#a3a61c" stroke-width="0.8"/>
<rect x="651.4" y="1579.5" width="14.1" height="56.3" fill="#000"/>
<rect x="651.4" y="1635.8" width="14.1" height="63" fill="#e7ef03" stroke="#a3a61c" stroke-width="0.8"/>
<text x="343.6" y="1749" font-size="22.62" font-style="italic" fill="#111" transform="translate(343.6 1749) skewY(-1.5) translate(-343.6 -1749)">Q(9)15s or VQ(9)10s</text>
<g transform="rotate(-1.77 338.7 1764.5)">
<rect x="338.7" y="1764.5" width="282" height="14.7" fill="#000"/>
<polygon points="344.5,1767.2 348.15,1777.2 340.85,1777.2" fill="#fff"/>
<polygon points="355.4,1767.2 359.04999999999995,1777.2 351.75,1777.2" fill="#fff"/>
<polygon points="366.3,1767.2 369.95,1777.2 362.65000000000003,1777.2" fill="#fff"/>
<polygon points="377.2,1767.2 380.84999999999997,1777.2 373.55,1777.2" fill="#fff"/>
<polygon points="388.1,1767.2 391.75,1777.2 384.45000000000005,1777.2" fill="#fff"/>
<polygon points="399.0,1767.2 402.65,1777.2 395.35,1777.2" fill="#fff"/>
<polygon points="409.9,1767.2 413.54999999999995,1777.2 406.25,1777.2" fill="#fff"/>
<polygon points="420.8,1767.2 424.45,1777.2 417.15000000000003,1777.2" fill="#fff"/>
<polygon points="431.7,1767.2 435.34999999999997,1777.2 428.05,1777.2" fill="#fff"/>
<polygon points="486.5,1767.2 490.15,1777.2 482.85,1777.2" fill="#fff"/>
<polygon points="497.1,1767.2 500.75,1777.2 493.45000000000005,1777.2" fill="#fff"/>
<polygon points="507.7,1767.2 511.34999999999997,1777.2 504.05,1777.2" fill="#fff"/>
<polygon points="518.3,1767.2 521.9499999999999,1777.2 514.65,1777.2" fill="#fff"/>
<polygon points="528.9,1767.2 532.55,1777.2 525.25,1777.2" fill="#fff"/>
<polygon points="539.5,1767.2 543.15,1777.2 535.85,1777.2" fill="#fff"/>
<polygon points="550.1,1767.2 553.75,1777.2 546.45,1777.2" fill="#fff"/>
<polygon points="560.7,1767.2 564.35,1777.2 557.0500000000001,1777.2" fill="#fff"/>
<polygon points="571.3,1767.2 574.9499999999999,1777.2 567.65,1777.2" fill="#fff"/>
</g>
<polygon points="1040.2,1451.1 1061.55,1480.6 1018.85,1480.6" fill="#000"/>
<polygon points="1018.85,1493 1061.55,1493 1040.2,1522" fill="#000"/>
<polygon points="1025.9,1538.7 1055.7,1538.7 1066.63,1589.2 1015.94,1589.2" fill="#000"/>
<polygon points="1015.98,1589 1066.59,1589 1077.0,1637.1 1006.5,1637.1" fill="#e7ef03" stroke="#a3a61c" stroke-width="0.8"/>
<polygon points="1006.5,1637 1077,1637 1105,1651.8 1105,1693.6 980.2,1693.6 980.2,1651" fill="#000"/>
<polygon points="1164.6,1418.2 1186.3,1446.5 1142.8999999999999,1446.5" fill="#000"/>
<polygon points="1142.8999999999999,1460 1186.3,1460 1164.6,1488.3" fill="#000"/>
<rect x="1159.2" y="1512.3" width="16.6" height="64" fill="#000"/>
<rect x="1159.2" y="1576.3" width="16.6" height="55.4" fill="#e7ef03" stroke="#a3a61c" stroke-width="0.8"/>
<rect x="1159.2" y="1631.7" width="16.6" height="62.7" fill="#000"/>
<text x="1207.72" y="1555" font-size="22.28" fill="#111">Retroreflector</text>
<rect x="1209.5" y="1568.5" width="91.5" height="28.3" fill="#141a6e" stroke="#000" stroke-width="1"/>
<rect x="1209.5" y="1603.4" width="92.2" height="29" fill="#141a6e" stroke="#000" stroke-width="1"/>
<text x="1058.52" y="1736" font-size="21.93" font-style="italic" fill="#111">Q(3).10s or VQ(3).5s</text>
<g>
<rect x="1049.7" y="1750" width="295.3" height="16.2" fill="#000"/>
<polygon points="1055.9,1754.4 1059.75,1764.2 1052.0500000000002,1764.2" fill="#fff"/>
<polygon points="1066.2,1754.4 1070.05,1764.2 1062.3500000000001,1764.2" fill="#fff"/>
<polygon points="1076.5,1754.4 1080.35,1764.2 1072.65,1764.2" fill="#fff"/>
<polygon points="1129.1,1754.4 1132.9499999999998,1764.2 1125.25,1764.2" fill="#fff"/>
<polygon points="1139.3999999999999,1754.4 1143.2499999999998,1764.2 1135.55,1764.2" fill="#fff"/>
<polygon points="1149.6999999999998,1754.4 1153.5499999999997,1764.2 1145.85,1764.2" fill="#fff"/>
<polygon points="1203.7,1754.4 1207.55,1764.2 1199.8500000000001,1764.2" fill="#fff"/>
<polygon points="1214.0,1754.4 1217.85,1764.2 1210.15,1764.2" fill="#fff"/>
<polygon points="1224.3,1754.4 1228.1499999999999,1764.2 1220.45,1764.2" fill="#fff"/>
<polygon points="1276.7,1754.4 1280.55,1764.2 1272.8500000000001,1764.2" fill="#fff"/>
<polygon points="1287.0,1754.4 1290.85,1764.2 1283.15,1764.2" fill="#fff"/>
<polygon points="1297.3,1754.4 1301.1499999999999,1764.2 1293.45,1764.2" fill="#fff"/>
</g>
<polygon points="700.65,1721 743.5500000000001,1721 722.1,1750.2" fill="#000"/>
<polygon points="700.65,1755.8 743.5500000000001,1755.8 722.1,1785" fill="#000"/>
<polygon points="708.6,1802 736.5,1802 757.7,1899.7 687.5,1899.7" fill="#e7ef03" stroke="#a3a61c" stroke-width="0.8"/>
<polygon points="687.5,1899.7 757.7,1899.7 786.6,1911.4 786.6,1954 659.6,1956.7 659.6,1914.3" fill="#000"/>
<polygon points="826.75,1690.2 868.8499999999999,1690.2 847.8,1719.7" fill="#000"/>
<polygon points="826.75,1725.3 868.8499999999999,1725.3 847.8,1754.7" fill="#000"/>
<rect x="841.6" y="1771.5" width="14.8" height="91.5" fill="#e7ef03" stroke="#a3a61c" stroke-width="0.8"/>
<rect x="841.6" y="1863" width="14.8" height="90" fill="#000"/>
<text x="896.45" y="1806" font-size="21.93" fill="#111">Retroreflector</text>
<rect x="897.8" y="1820.1" width="90.8" height="27.7" fill="#e7ef03" stroke="#a3a61c" stroke-width="0.8"/>
<rect x="897.8" y="1882.2" width="90.8" height="28.8" fill="#141a6e" stroke="#000" stroke-width="1"/>
<text x="689.12" y="1995" font-size="21.91" font-style="italic" fill="#111">Q(6)+LFl.15s or VQ(6)+LFl.10s</text>
<g transform="rotate(-0.6 680.7 2009.5)">
<rect x="680.7" y="2009.5" width="288" height="15.4" fill="#000"/>
<polygon points="687.5,2013.4 691.25,2022.9 683.75,2022.9" fill="#fff"/>
<polygon points="698.0,2013.4 701.75,2022.9 694.25,2022.9" fill="#fff"/>
<polygon points="708.5,2013.4 712.25,2022.9 704.75,2022.9" fill="#fff"/>
<polygon points="719.0,2013.4 722.75,2022.9 715.25,2022.9" fill="#fff"/>
<polygon points="729.5,2013.4 733.25,2022.9 725.75,2022.9" fill="#fff"/>
<polygon points="740.0,2013.4 743.75,2022.9 736.25,2022.9" fill="#fff"/>
<polygon points="831.3,2013.4 835.05,2022.9 827.55,2022.9" fill="#fff"/>
<polygon points="841.8,2013.4 845.55,2022.9 838.05,2022.9" fill="#fff"/>
<polygon points="852.3,2013.4 856.05,2022.9 848.55,2022.9" fill="#fff"/>
<polygon points="862.8,2013.4 866.55,2022.9 859.05,2022.9" fill="#fff"/>
<polygon points="873.3,2013.4 877.05,2022.9 869.55,2022.9" fill="#fff"/>
<polygon points="883.8,2013.4 887.55,2022.9 880.05,2022.9" fill="#fff"/>
<rect x="745.7" y="2011.5" width="15.3" height="11.4" fill="#fff"/>
<rect x="888.8" y="2011.5" width="16" height="11.4" fill="#fff"/>
</g>
<text x="82.78" y="2101.6" font-size="23.71" font-weight="700" fill="#111" transform="translate(82.78 2101.6) skewY(-0.2) translate(-82.78 -2101.6)">Figure 1.9</text>
<text x="218.59" y="2100.6" font-size="24.11" fill="#111" transform="translate(218.59 2100.6) skewY(-0.3) translate(-218.59 -2100.6)">Cardinal marks</text>
<text x="1566.34" y="2219.6" font-size="23.75" fill="#111">13</text>
<text x="3.15" y="2310" font-size="11.21" fill="#111">Scanned by CamScanner</text>
</svg>
</body></html>
